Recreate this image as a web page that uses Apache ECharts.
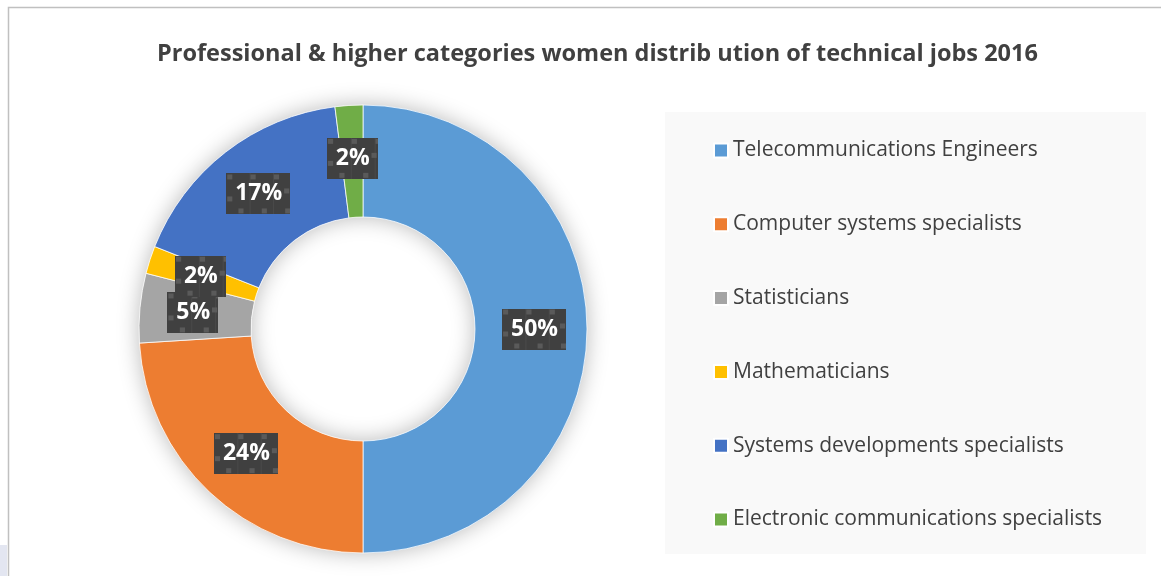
<!DOCTYPE html>
<html><head><meta charset="utf-8">
<script src="https://cdn.jsdelivr.net/npm/echarts@6/dist/echarts.min.js"></script>
<style>html,body{margin:0;padding:0;background:#fff}#c{width:1161px;height:576px}</style>
</head><body><div id="c"></div>
<script>
var titleText = 'Professional & higher categories women distrib ution of technical jobs 2016';
var categories = ['Telecommunications Engineers','Computer systems specialists','Statisticians','Mathematicians','Systems developments specialists','Electronic communications specialists'];
var values = [50, 24, 5, 2, 17, 2];
var colors = ['#5b9bd5','#ed7d31','#a5a5a5','#ffc000','#4472c4','#70ad47'];

function patternCanvas(w, h) {
  var c = document.createElement('canvas'); c.width = w; c.height = h;
  var g = c.getContext('2d');
  g.fillStyle = '#404040'; g.fillRect(0,0,w,h);
  g.fillStyle = '#4a4a4a';
  for (var x = 23; x < w; x += 23) g.fillRect(x, 0, 1, h);
  g.fillStyle = '#5a5a5a';
  for (var x2 = 1; x2 < w; x2 += 23) g.fillRect(x2, 1, 5, 5);
  for (var x3 = 12; x3 < w; x3 += 23) g.fillRect(x3, h - 6, 5, 5);
  g.fillRect(1, Math.round(h/2) + 2, 5, 5);
  g.fillRect(w - 6, Math.round(h/2) - 6, 5, 5);
  return c;
}
var patWide = patternCanvas(63, 41), patNarrow = patternCanvas(49, 41);

var data = categories.map(function (n, i) {
  return { name: n, value: values[i], itemStyle: { color: colors[i] },
    label: { backgroundColor: { image: String(values[i]).length > 1 ? patWide : patNarrow } } };
});

var chart = echarts.init(document.getElementById('c'), null, { renderer: 'canvas' });
chart.setOption({
  animation: false,
  backgroundColor: '#ffffff',
  title: { text: titleText, left: 157, top: 42, padding: 0,
    textStyle: { fontFamily: 'Open Sans', fontWeight: 'bold', fontSize: 23.5, color: '#404040' } },
  graphic: [
    { type: 'rect', z: -10, shape: { x: 8.5, y: 7.5, width: 1200, height: 600 }, style: { fill: 'none', stroke: '#c0c0c0', lineWidth: 1.5 } },
    { type: 'rect', z: -10, shape: { x: 0, y: 545, width: 7, height: 31 }, style: { fill: '#e3e6f1' } },
    { type: 'rect', z: -10, shape: { x: 665, y: 112, width: 481, height: 442 }, style: { fill: '#f9f9f9' } }
  ],
  legend: { orient: 'vertical', left: 713, top: 140, padding: 0, itemWidth: 14, itemHeight: 14, itemGap: 52.8,
    icon: 'rect', selectedMode: false,
    textStyle: { fontFamily: 'Open Sans', fontSize: 21, color: '#404040', lineHeight: 20 },
    data: categories },
  series: [
    { type: 'pie', silent: true, center: [363, 329], radius: [112, 224], startAngle: 90,
      label: { show: false }, labelLine: { show: false }, z: 1,
      itemStyle: { color: '#ffffff', shadowBlur: 22, shadowColor: 'rgba(0,0,0,0.28)' },
      data: [{ name: 'bg', value: 1 }] },
    { type: 'pie', center: [363, 329], radius: [112, 224], startAngle: 90, clockwise: true, z: 2,
      avoidLabelOverlap: false,
      labelLayout: { hideOverlap: false },
      itemStyle: { borderColor: '#ffffff', borderWidth: 0.75 },
      label: { show: true, position: 'inside', formatter: '{d}%', color: '#ffffff',
        fontFamily: 'Open Sans', fontWeight: 'bold', fontSize: 23, lineHeight: 25,
        padding: [8, 8, 8, 9], shadowBlur: 6, shadowColor: 'rgba(0,0,0,0.45)', shadowOffsetX: 3, shadowOffsetY: 3 },
      labelLine: { show: false },
      data: data }
  ]
});
</script></body></html>
